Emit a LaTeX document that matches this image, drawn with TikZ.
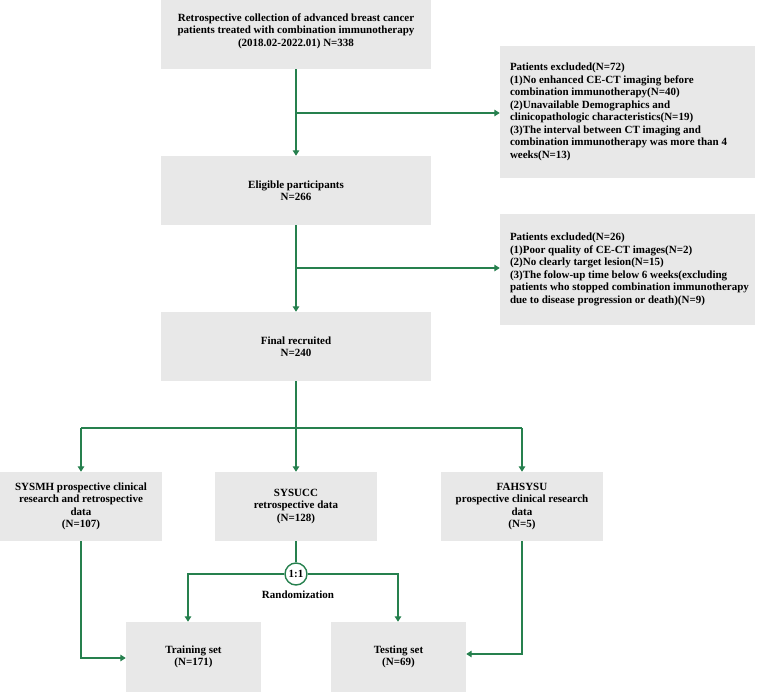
\documentclass[tikz,border=0pt]{standalone}
\usepackage{fontspec}
\setmainfont{Liberation Serif}
\usetikzlibrary{arrows.meta}
\definecolor{lgreen}{RGB}{38,128,78}
\definecolor{boxgray}{RGB}{232,232,232}
\tikzset{
  gbox/.style={fill=boxgray, draw=none, inner sep=0pt, align=center, text=black,
    font=\bfseries\fontsize{11}{12.5}\selectfont},
  extext/.style={inner sep=0pt, align=left, anchor=west, xshift=10pt,
    font=\bfseries\fontsize{11}{12.5}\selectfont},
  conn/.style={draw=lgreen, line width=1.4pt},
  arr/.style={conn, -{Triangle[width=6.5pt,length=5.5pt]}},
  ratio/.style={circle, draw=lgreen, line width=1.4pt, fill=white, minimum size=22pt,
    inner sep=0pt, font=\bfseries\fontsize{11}{12}\selectfont},
}
\begin{document}
\begin{tikzpicture}[x=1pt,y=-1pt]
\useasboundingbox (0,0) rectangle (757,692);
% boxes
\node[gbox, minimum width=270pt, minimum height=76pt] (top) at (296,31)
  {Retrospective collection of advanced breast cancer\\patients treated with combination immunotherapy\\(2018.02-2022.01) N=338};
\node[gbox, minimum width=270pt, minimum height=69pt] (elig) at (296,190.5)
  {Eligible participants\\N=266};
\node[gbox, minimum width=270pt, minimum height=69pt] (final) at (296,346.5)
  {Final recruited\\N=240};
\node[gbox, minimum width=255pt, minimum height=132pt] (ex1) at (627.5,112) {};
\node[extext] (ex1t) at (ex1.west)
  {Patients excluded(N=72)\\(1)No enhanced CE-CT imaging before\\combination immunotherapy(N=40)\\(2)Unavailable Demographics and\\clinicopathologic characteristics(N=19)\\(3)The interval between CT imaging and\\combination immunotherapy was more than 4\\weeks(N=13)};
\node[gbox, minimum width=255pt, minimum height=111pt] (ex2) at (627.5,269.5) {};
\node[extext] (ex2t) at (ex2.west)
  {Patients excluded(N=26)\\(1)Poor quality of CE-CT images(N=2)\\(2)No clearly target lesion(N=15)\\(3)The folow-up time below 6 weeks(excluding\\patients who stopped combination immunotherapy\\due to disease progression or death)(N=9)};
\node[gbox, minimum width=162pt, minimum height=69pt] (sysmh) at (81,506.5)
  {SYSMH prospective clinical\\research and retrospective\\data\\(N=107)};
\node[gbox, minimum width=162pt, minimum height=69pt] (sysucc) at (296,506.5)
  {SYSUCC\\retrospective data\\(N=128)};
\node[gbox, minimum width=162pt, minimum height=69pt] (fah) at (522,506.5)
  {FAHSYSU\\prospective clinical research\\data\\(N=5)};
\node[gbox, minimum width=135pt, minimum height=70pt] (train) at (193.5,657)
  {Training set\\(N=171)};
\node[gbox, minimum width=135pt, minimum height=70pt] (test) at (398.5,657)
  {Testing set\\(N=69)};
\node[ratio] (r) at (296,574) {1:1};
\node[inner sep=0pt, font=\bfseries\fontsize{11}{12}\selectfont] (rl) at (298,595) {Randomization};
% coordinates
\coordinate (j1) at (296,113);
\coordinate (j2) at (296,268);
\coordinate (j3) at (296,428);
\coordinate (bl) at (81,428);
\coordinate (br) at (522,428);
\coordinate (rl1) at (188,574);
\coordinate (rr1) at (398,574);
% connectors
\draw[arr] (top.south) -- (elig.north);
\draw[arr] (j1) -- (j1 -| ex1.west);
\draw[arr] (elig.south) -- (final.north);
\draw[arr] (j2) -- (j2 -| ex2.west);
\draw[conn] (final.south) -- (j3);
\draw[conn] (bl) -- (br);
\draw[arr] (bl) -- (sysmh.north);
\draw[arr] (j3) -- (sysucc.north);
\draw[arr] (br) -- (fah.north);
\draw[conn] (sysucc.south) -- (r.north);
\draw[arr] (r.west) -- (rl1) -- (rl1 |- train.north);
\draw[arr] (r.east) -- (rr1) -- (rr1 |- test.north);
\draw[arr] (sysmh.south) -- (81,658) -- (train.west |- 0,658);
\draw[arr] (fah.south) -- (522,654) -- (test.east |- 0,654);
\end{tikzpicture}
\end{document}
